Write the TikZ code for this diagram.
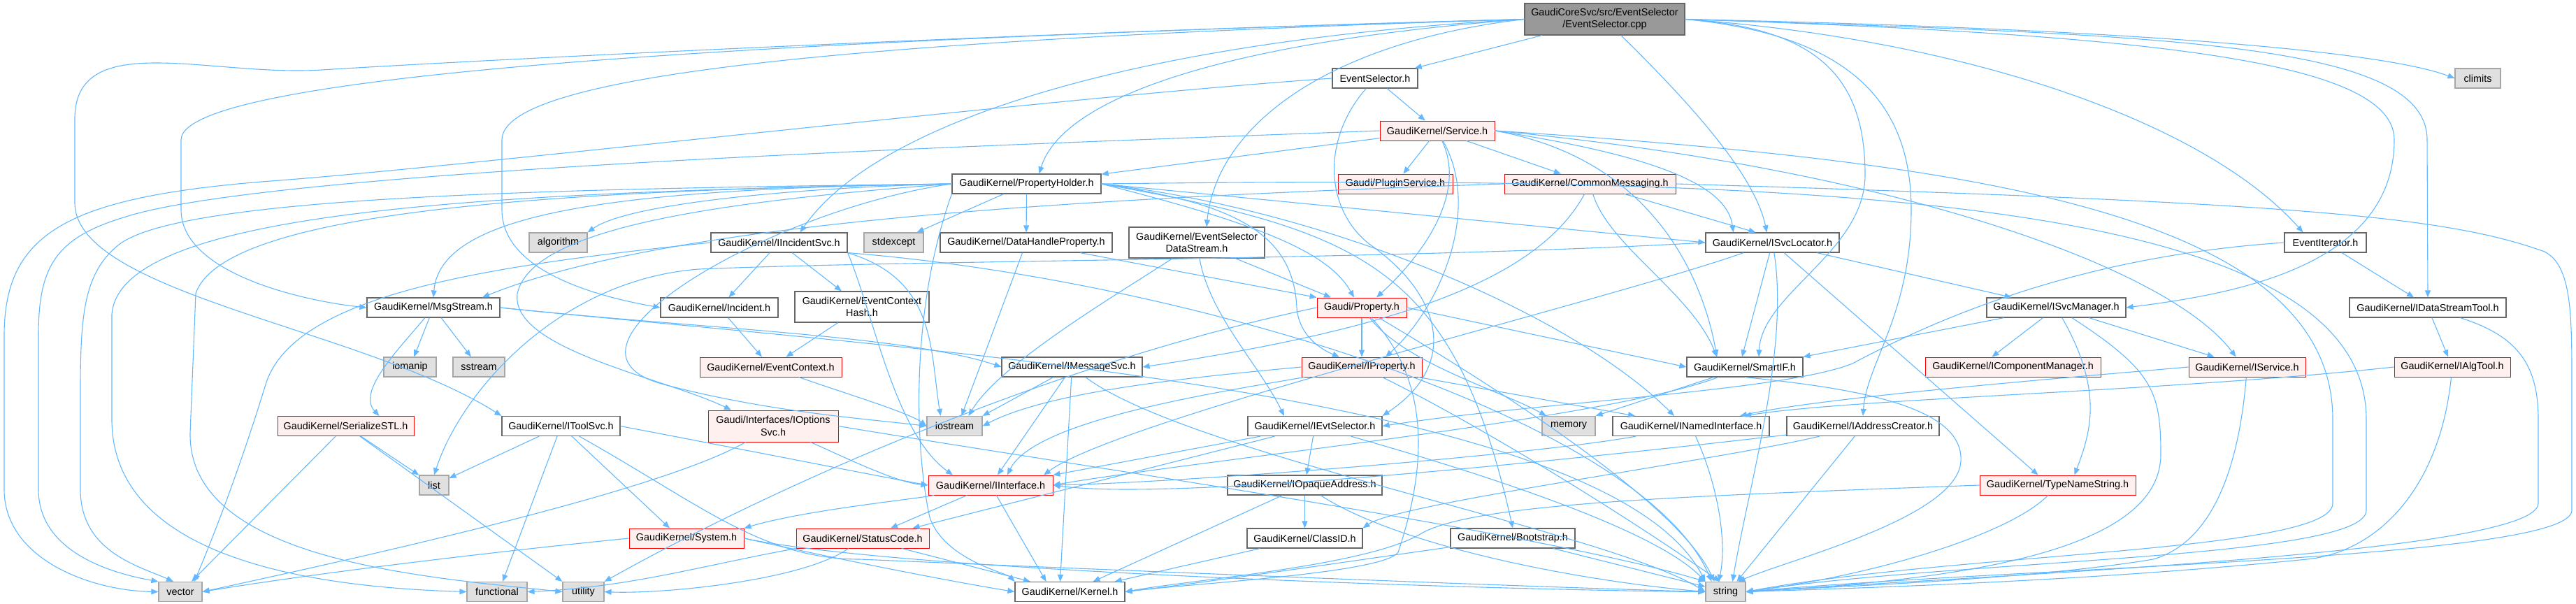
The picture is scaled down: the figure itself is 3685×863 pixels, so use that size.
\documentclass[tikz,border=0pt]{standalone}
\usepackage{fontspec}
\setmainfont{Liberation Sans}
\usetikzlibrary{arrows.meta}
\definecolor{depblue}{HTML}{63B8FF}
\definecolor{redfill}{HTML}{FFF0F0}
\definecolor{sysfill}{HTML}{E0E0E0}
\tikzset{
  hdr/.style={draw=black!60, fill=white, line width=0.6pt, inner sep=0pt, minimum height=14pt,
    font=\fontsize{7.2}{8.7}\selectfont, align=center},
  redhdr/.style={hdr, draw=red, fill=redfill, line width=0.5pt},
  syshdr/.style={hdr, draw=black!35, fill=sysfill},
  mainhdr/.style={hdr, draw=black!60, fill=black!40, minimum height=22.5pt},
  dep/.style={draw=depblue, line width=0.55pt, -{Triangle[length=5pt,width=4pt]}},
}
\begin{document}
\begin{tikzpicture}[x=0.5pt, y=-0.5pt]
  \useasboundingbox (0,0) rectangle (3685,863);
  % nodes, row by row
  \node[mainhdr, minimum width=114.5pt] (main) at (2295.5,27.5) {GaudiCoreSvc/src/EventSelector\\/EventSelector.cpp};
  \node[hdr, minimum width=61pt] (EvSelH) at (1967,112) {EventSelector.h};
  \node[syshdr, minimum width=32.5pt] (climits) at (3544.5,112) {climits};
  \node[redhdr, minimum width=82pt] (ServiceH) at (2056,187) {GaudiKernel/Service.h};
  \node[hdr, minimum width=106.5pt] (PropHolder) at (1468.5,263) {GaudiKernel/PropertyHolder.h};
  \node[redhdr, minimum width=82pt] (PluginSvc) at (1996,263) {Gaudi/PluginService.h};
  \node[redhdr, minimum width=122.5pt] (CommonMsg) at (2274.5,263) {GaudiKernel/CommonMessaging.h};
  \node[syshdr, minimum width=41.5pt] (algorithm) at (798.5,347) {algorithm};
  \node[hdr, minimum width=97.5pt] (IIncSvc) at (1114.5,347) {GaudiKernel/IIncidentSvc.h};
  \node[syshdr, minimum width=42.5pt] (stdexcept) at (1278.5,347) {stdexcept};
  \node[hdr, minimum width=123pt] (DataHandleProp) at (1468,347) {GaudiKernel/DataHandleProperty.h};
  \node[hdr, minimum width=97pt, minimum height=22pt] (EvSelDataStream) at (1712,347) {GaudiKernel/EventSelector\\DataStream.h};
  \node[hdr, minimum width=95.5pt] (ISvcLocator) at (2535.5,347) {GaudiKernel/ISvcLocator.h};
  \node[hdr, minimum width=58.5pt] (EventIterator) at (3326.5,347) {EventIterator.h};
  \node[hdr, minimum width=95pt] (MsgStream) at (620,440) {GaudiKernel/MsgStream.h};
  \node[hdr, minimum width=84pt] (Incident) at (1029,440) {GaudiKernel/Incident.h};
  \node[hdr, minimum width=96pt, minimum height=22pt] (EvCtxHash) at (1233,439) {GaudiKernel/EventContext\\Hash.h};
  \node[redhdr, minimum width=64pt] (PropertyG) at (1948,440) {Gaudi/Property.h};
  \node[hdr, minimum width=99.5pt] (ISvcManager) at (2941.5,440) {GaudiKernel/ISvcManager.h};
  \node[hdr, minimum width=112pt] (IDataStreamTool) at (3473,440) {GaudiKernel/IDataStreamTool.h};
  \node[syshdr, minimum width=37.5pt] (iomanip) at (586.5,525) {iomanip};
  \node[syshdr, minimum width=37pt] (sstream) at (685,525) {sstream};
  \node[redhdr, minimum width=101.5pt] (EvCtx) at (1102.5,525) {GaudiKernel/EventContext.h};
  \node[hdr, minimum width=100.5pt] (IMsgSvc) at (1533.5,525) {GaudiKernel/IMessageSvc.h};
  \node[redhdr, minimum width=86pt] (IProperty) at (1948,525) {GaudiKernel/IProperty.h};
  \node[hdr, minimum width=83pt] (SmartIF) at (2496,525) {GaudiKernel/SmartIF.h};
  \node[redhdr, minimum width=125.5pt] (ICompMgr) at (2879.5,525) {GaudiKernel/IComponentManager.h};
  \node[redhdr, minimum width=83.5pt] (IService) at (3214.5,525) {GaudiKernel/IService.h};
  \node[redhdr, minimum width=83pt] (IAlgTool) at (3508,525) {GaudiKernel/IAlgTool.h};
  \node[redhdr, minimum width=97.5pt] (SerializeSTL) at (494.5,609.5) {GaudiKernel/SerializeSTL.h};
  \node[hdr, minimum width=84.5pt] (IToolSvc) at (802.5,609.5) {GaudiKernel/IToolSvc.h};
  \node[redhdr, minimum width=93pt, minimum height=22.5pt] (IOptionsSvc) at (1106,609.5) {Gaudi/Interfaces/IOptions\\Svc.h};
  \node[syshdr, minimum width=39.5pt] (iostream) at (1365.5,609.5) {iostream};
  \node[hdr, minimum width=96pt] (IEvtSelector) at (1881,609.5) {GaudiKernel/IEvtSelector.h};
  \node[syshdr, minimum width=38pt] (memory) at (2244,609.5) {memory};
  \node[hdr, minimum width=112pt] (INamedIf) at (2419,609.5) {GaudiKernel/INamedInterface.h};
  \node[hdr, minimum width=109pt] (IAddrCreator) at (2665,609.5) {GaudiKernel/IAddressCreator.h};
  \node[syshdr, minimum width=21pt] (list) at (621,694) {list};
  \node[redhdr, minimum width=89pt] (IInterface) at (1417,694) {GaudiKernel/IInterface.h};
  \node[hdr, minimum width=110.5pt] (IOpaqueAddr) at (1866.5,694) {GaudiKernel/IOpaqueAddress.h};
  \node[redhdr, minimum width=111.5pt] (TypeNameStr) at (2943.5,694) {GaudiKernel/TypeNameString.h};
  \node[redhdr, minimum width=82pt] (System) at (982,770) {GaudiKernel/System.h};
  \node[redhdr, minimum width=95pt] (StatusCode) at (1234,770) {GaudiKernel/StatusCode.h};
  \node[hdr, minimum width=82.5pt] (ClassID) at (1866.5,770) {GaudiKernel/ClassID.h};
  \node[hdr, minimum width=89pt] (Bootstrap) at (2164,770) {GaudiKernel/Bootstrap.h};
  \node[syshdr, minimum width=31pt] (vector) at (258,846.5) {vector};
  \node[syshdr, minimum width=43pt] (functional) at (711,846.5) {functional};
  \node[syshdr, minimum width=29.5pt] (utility) at (834.5,846.5) {utility};
  \node[hdr, minimum width=78.5pt] (KernelH) at (1530.5,846.5) {GaudiKernel/Kernel.h};
  \node[syshdr, minimum width=28.5pt] (string) at (2468.5,846.5) {string};
  % EventSelector.cpp
  \draw[dep] (main) -- (EvSelH);
  \draw[dep] (main.west) .. controls (1500,45) and (700,85) .. (460,100) .. controls (300,110) and (107,40) .. (107,170) -- (107,290) .. controls (107,420) and (520,470) .. (IToolSvc.north west);
  \draw[dep] (main.west) .. controls (1400,50) and (259,90) .. (259,200) -- (259,300) .. controls (259,390) and (430,430) .. (MsgStream.west);
  \draw[dep] (main.west) .. controls (1300,55) and (718,100) .. (718,200) -- (718,300) .. controls (718,390) and (860,425) .. (Incident.west);
  \draw[dep] (main.west) .. controls (1750,60) and (1520,140) .. ([xshift=9pt]PropHolder.north);
  \draw[dep] (main.west) .. controls (1600,60) and (1250,180) .. ([xshift=15pt]IIncSvc.north);
  \draw[dep] (main.west) .. controls (1900,60) and (1740,180) .. ([xshift=7pt]EvSelDataStream.north);
  \draw[dep] (main) .. controls (2420,150) and (2510,250) .. ([xshift=-4pt]ISvcLocator.north);
  \draw[dep] (main.east) .. controls (3100,50) and (3425,90) .. (3425,200) .. controls (3425,380) and (3200,420) .. (ISvcManager.east);
  \draw[dep] (main.east) .. controls (3000,40) and (3400,70) .. (climits.west);
  \draw[dep] (main.east) .. controls (3100,50) and (3472,60) .. (3472,200) -- (IDataStreamTool.north);
  \draw[dep] (main.east) .. controls (2800,55) and (3150,170) .. ([xshift=-16pt]EventIterator.north);
  \draw[dep] (main.east) .. controls (2600,40) and (2668,110) .. (2668,250) .. controls (2668,360) and (2520,420) .. ([xshift=10pt]SmartIF.north);
  \draw[dep] (main.east) .. controls (2650,50) and (2734,150) .. (2734,300) .. controls (2734,450) and (2670,520) .. (IAddrCreator.north);
  % EventSelector.h
  \draw[dep] (EvSelH) -- (ServiceH);
  \draw[dep] (EvSelH) .. controls (1890,200) and (1895,300) .. (1960,350) .. controls (2060,420) and (2090,520) .. (IEvtSelector.north east);
  \draw[dep] (EvSelH.west) .. controls (1500,140) and (700,235) .. (400,258) .. controls (100,280) and (6,330) .. (6,480) -- (6,700) .. controls (6,800) and (130,845) .. (vector.west);
  % Service.h
  \draw[dep] (ServiceH) -- (PropHolder);
  \draw[dep] (ServiceH) -- (PluginSvc);
  \draw[dep] (ServiceH) -- (CommonMsg);
  \draw[dep] (ServiceH) .. controls (2100,280) and (2030,370) .. ([xshift=10.5pt]PropertyG.north);
  \draw[dep] (ServiceH) .. controls (2120,300) and (2060,440) .. ([xshift=17pt]IProperty.north);
  \draw[dep] (ServiceH.east) .. controls (2350,220) and (2470,260) .. ([xshift=-28pt]ISvcLocator.north);
  \draw[dep] (ServiceH.east) .. controls (2700,240) and (3100,380) .. ([xshift=-8pt]IService.north);
  \draw[dep] (ServiceH.east) .. controls (2380,230) and (2440,420) .. ([xshift=-20pt]SmartIF.north);
  \draw[dep] (ServiceH.west) .. controls (1500,205) and (400,240) .. (180,310) .. controls (80,340) and (55,380) .. (55,480) -- (55,700) .. controls (55,790) and (160,820) .. (vector.north west);
  \draw[dep] (ServiceH.east) .. controls (2800,230) and (3337,300) .. (3337,600) -- (3337,720) .. controls (3337,790) and (2800,790) .. (string.east);
  % PropertyHolder.h
  \draw[dep] (PropHolder) -- (stdexcept);
  \draw[dep] (PropHolder) -- (DataHandleProp);
  \draw[dep] (PropHolder.west) .. controls (1150,268) and (900,290) .. (algorithm.north east);
  \draw[dep] (PropHolder.west) .. controls (800,270) and (260,280) .. (170,350) .. controls (120,390) and (115,450) .. (115,560) -- (115,700) .. controls (115,790) and (200,810) .. ([xshift=-5pt]vector.north);
  \draw[dep] (PropHolder.west) .. controls (800,272) and (320,300) .. (280,420) -- (272,620) .. controls (270,800) and (600,825) .. (utility.west);
  \draw[dep] (PropHolder.west) .. controls (700,275) and (170,300) .. (160,450) -- (160,600) .. controls (160,800) and (450,840) .. (functional.west);
  \draw[dep] (PropHolder.west) .. controls (900,270) and (630,300) .. (MsgStream.north);
  \draw[dep] (PropHolder.west) .. controls (1000,290) and (760,330) .. (740,420) .. controls (730,500) and (950,540) .. ([xshift=-30pt]IOptionsSvc.north);
  \draw[dep] (PropHolder.west) .. controls (1100,300) and (760,500) .. (950,550) .. controls (1100,590) and (1250,600) .. (iostream.west);
  \draw[dep] (PropHolder.east) .. controls (1760,290) and (1850,330) .. (1855,440) .. controls (1858,480) and (1890,500) .. ([xshift=-16pt]IProperty.north);
  \draw[dep] (PropHolder.east) .. controls (1800,320) and (1900,360) .. ([xshift=-5.5pt]PropertyG.north);
  \draw[dep] (PropHolder.east) .. controls (1950,330) and (2080,380) .. (Bootstrap.north);
  \draw[dep] (PropHolder.east) -- (ISvcLocator.west);
  \draw[dep] (PropHolder.east) .. controls (1900,300) and (2250,450) .. ([xshift=-12pt]INamedIf.north);
  \draw[dep] (PropHolder.south west) .. controls (1300,450) and (1310,650) .. (1330,740) .. controls (1350,800) and (1440,820) .. (KernelH.north west);
  \draw[dep] (PropHolder.east) .. controls (2600,250) and (3385,280) .. (3385,600) -- (3385,730) .. controls (3385,800) and (2800,800) .. (string.east);
  % CommonMessaging.h
  \draw[dep] (CommonMsg.west) .. controls (1500,285) and (950,320) .. ([xshift=35pt]MsgStream.north);
  \draw[dep] (CommonMsg) .. controls (2200,400) and (2000,470) .. (IMsgSvc.east);
  \draw[dep] (CommonMsg) -- ([xshift=-12pt]ISvcLocator.north);
  \draw[dep] (CommonMsg) .. controls (2300,350) and (2420,420) .. ([xshift=-20pt]SmartIF.north);
  \draw[dep] (CommonMsg.east) .. controls (3300,290) and (3500,310) .. (3640,360) .. controls (3679,380) and (3679,450) .. (3679,550) -- (3679,730) .. controls (3679,800) and (2900,810) .. (string.east);
  % IIncidentSvc.h
  \draw[dep] (IIncSvc) -- (Incident);
  \draw[dep] (IIncSvc) -- (EvCtxHash);
  \draw[dep] (IIncSvc.south east) .. controls (1250,450) and (1280,620) .. ([xshift=-27pt]IInterface.north);
  \draw[dep] (IIncSvc.south east) .. controls (1340,400) and (1330,500) .. ([xshift=-10pt]iostream.north);
  \draw[dep] (IIncSvc.south east) .. controls (1700,400) and (2350,600) .. ([xshift=-10pt]string.north);
  \draw[dep] (IIncSvc.west) .. controls (700,380) and (420,420) .. (380,550) .. controls (340,680) and (300,780) .. ([xshift=10pt]vector.north);
  % DataHandleProperty.h
  \draw[dep] (DataHandleProp) -- (PropertyG.north west);
  \draw[dep] (DataHandleProp) -- ([xshift=5pt]iostream.north);
  % EventSelectorDataStream.h
  \draw[dep] (EvSelDataStream) -- ([xshift=-22pt]PropertyG.north);
  \draw[dep] (EvSelDataStream) .. controls (1730,450) and (1800,520) .. ([xshift=-22pt]IEvtSelector.north);
  \draw[dep] (EvSelDataStream) .. controls (1600,420) and (1430,520) .. ([xshift=10pt]iostream.north);
  % ISvcLocator.h
  \draw[dep] (ISvcLocator) -- ([xshift=-32pt]ISvcManager.north);
  \draw[dep] (ISvcLocator) -- ([xshift=-2pt]SmartIF.north);
  \draw[dep] (ISvcLocator) -- ([xshift=-14pt]TypeNameStr.north);
  \draw[dep] (ISvcLocator) .. controls (2300,430) and (1600,600) .. ([xshift=38pt]IInterface.north);
  \draw[dep] (ISvcLocator) .. controls (2560,500) and (2500,700) .. ([xshift=5pt]string.north);
  \draw[dep] (ISvcLocator.west) .. controls (2000,372) and (1300,372) .. (1000,385) .. controls (800,400) and (660,560) .. (list.north);
  % EventIterator.h
  \draw[dep] (EventIterator) -- ([xshift=-10pt]IDataStreamTool.north);
  \draw[dep] (EventIterator.west) .. controls (3000,365) and (2800,440) .. (2650,520) .. controls (2550,560) and (2200,575) .. (IEvtSelector.east);
  % MsgStream.h
  \draw[dep] (MsgStream) -- (iomanip);
  \draw[dep] (MsgStream) -- (sstream);
  \draw[dep] (MsgStream) .. controls (570,500) and (510,560) .. ([xshift=24pt]SerializeSTL.north);
  \draw[dep] (MsgStream.east) .. controls (1000,470) and (1300,480) .. (IMsgSvc.west);
  \draw[dep] (MsgStream.east) .. controls (1300,500) and (2300,560) .. (string.north west);
  % Incident.h, EventContextHash.h, EventContext.h
  \draw[dep] (Incident) -- (EvCtx);
  \draw[dep] (EvCtxHash) -- (EvCtx);
  \draw[dep] (EvCtx) .. controls (1200,560) and (1300,590) .. (iostream.west);
  % Gaudi/Property.h
  \draw[dep] (PropertyG) -- (IProperty);
  \draw[dep] (PropertyG.west) .. controls (1500,520) and (1100,700) .. (utility.north east);
  \draw[dep] (PropertyG.east) -- (SmartIF.west);
  \draw[dep] (PropertyG) .. controls (2010,520) and (2150,560) .. ([xshift=-16pt]memory.north);
  \draw[dep] (PropertyG) .. controls (2150,560) and (2400,720) .. ([xshift=-8pt]string.north);
  \draw[dep] (PropertyG) .. controls (2060,560) and (2030,700) .. (2000,790) .. controls (1980,820) and (1700,835) .. (KernelH.east);
  % IMessageSvc.h
  \draw[dep] (IMsgSvc) -- (iostream.north east);
  \draw[dep] (IMsgSvc) -- ([xshift=5pt]IInterface.north);
  \draw[dep] (IMsgSvc) -- ([xshift=-7pt]KernelH.north);
  \draw[dep] (IMsgSvc) .. controls (1700,650) and (2300,760) .. (string.west);
  % IProperty.h
  \draw[dep] (IProperty) .. controls (1750,560) and (1480,600) .. ([xshift=12pt]IInterface.north);
  \draw[dep] (IProperty.west) .. controls (1700,540) and (1500,560) .. (iostream.east);
  \draw[dep] (IProperty) -- ([xshift=-40pt]INamedIf.north);
  \draw[dep] (IProperty) .. controls (2100,600) and (2300,720) .. ([xshift=-4pt]string.north);
  % SmartIF.h
  \draw[dep] (SmartIF) .. controls (2300,600) and (1700,660) .. (IInterface.east);
  \draw[dep] (SmartIF) -- (memory.north east);
  \draw[dep] (SmartIF.south) .. controls (2650,555) and (2810,580) .. (2805,660) .. controls (2800,740) and (2560,800) .. ([xshift=9pt]string.north);
  % ISvcManager.h
  \draw[dep] (ISvcManager) -- (SmartIF.north east);
  \draw[dep] (ISvcManager) -- ([xshift=-15pt]ICompMgr.north);
  \draw[dep] (ISvcManager) -- ([xshift=-23.5pt]IService.north);
  \draw[dep] (ISvcManager) .. controls (3010,560) and (2990,620) .. ([xshift=12pt]TypeNameStr.north);
  \draw[dep] (ISvcManager) .. controls (3080,530) and (3091,560) .. (3091,650) .. controls (3091,790) and (2800,830) .. (string.east);
  % IDataStreamTool.h, IService.h, IAlgTool.h
  \draw[dep] (IDataStreamTool) -- (IAlgTool);
  \draw[dep] (IDataStreamTool) .. controls (3600,480) and (3631,520) .. (3631,600) -- (3631,720) .. controls (3631,790) and (2900,820) .. (string.east);
  \draw[dep] (IService.west) .. controls (2900,545) and (2600,570) .. ([xshift=35pt]INamedIf.north);
  \draw[dep] (IService) .. controls (3200,700) and (3150,780) .. (3080,800) .. controls (2900,830) and (2600,840) .. (string.east);
  \draw[dep] (IAlgTool.west) .. controls (3100,560) and (2650,570) .. ([xshift=38pt]INamedIf.north);
  \draw[dep] (IAlgTool) .. controls (3490,700) and (3400,790) .. (3300,800) .. controls (3000,830) and (2700,840) .. (string.east);
  % SerializeSTL.h, IToolSvc.h, IOptionsSvc.h
  \draw[dep] (SerializeSTL) -- (list);
  \draw[dep] (SerializeSTL) -- ([xshift=8pt]vector.north);
  \draw[dep] (SerializeSTL) -- (utility.north west);
  \draw[dep] (IToolSvc) -- (list);
  \draw[dep] (IToolSvc) -- ([xshift=4pt]functional.north);
  \draw[dep] (IToolSvc) -- ([xshift=-12pt]System.north);
  \draw[dep] (IToolSvc.east) .. controls (1100,650) and (1250,680) .. (IInterface.west);
  \draw[dep] (IToolSvc) .. controls (1000,720) and (1090,800) .. (1230,800) .. controls (1700,820) and (2200,840) .. (string.west);
  \draw[dep] (IOptionsSvc) .. controls (950,700) and (550,790) .. (vector.east);
  \draw[dep] (IOptionsSvc) .. controls (1200,650) and (1280,690) .. (IInterface.west);
  \draw[dep] (IOptionsSvc.east) .. controls (1500,660) and (2200,760) .. (string.north west);
  % IEvtSelector.h
  \draw[dep] (IEvtSelector) -- (IInterface.north east);
  \draw[dep] (IEvtSelector) -- (IOpaqueAddr);
  \draw[dep] (IEvtSelector) -- ([xshift=-12pt]StatusCode.north east);
  \draw[dep] (IEvtSelector) .. controls (2200,700) and (2380,770) .. (string.north west);
  % INamedInterface.h, IAddressCreator.h
  \draw[dep] (INamedIf) .. controls (2200,650) and (1700,690) .. (IInterface.east);
  \draw[dep] (INamedIf) .. controls (2460,700) and (2470,780) .. ([xshift=-5pt]string.north);
  \draw[dep] (IAddrCreator) .. controls (2450,660) and (2000,720) .. (ClassID.north east);
  \draw[dep] (IAddrCreator) .. controls (2400,640) and (1700,720) .. (IInterface.east);
  \draw[dep] (IAddrCreator) -- ([xshift=8pt]string.north);
  % IInterface.h, IOpaqueAddress.h, TypeNameString.h
  \draw[dep] (IInterface) -- ([xshift=20pt]StatusCode.north);
  \draw[dep] (IInterface) -- ([xshift=-17pt]KernelH.north);
  \draw[dep] (IInterface) .. controls (1300,715) and (1150,730) .. (System.north east);
  \draw[dep] (IOpaqueAddr) -- (ClassID);
  \draw[dep] (IOpaqueAddr) -- ([xshift=-23pt]KernelH.north east);
  \draw[dep] (IOpaqueAddr) .. controls (2000,780) and (2250,830) .. (string.west);
  \draw[dep] (TypeNameStr.west) .. controls (2400,710) and (2100,720) .. (2030,765) .. controls (1950,810) and (1700,830) .. (KernelH.east);
  \draw[dep] (TypeNameStr) .. controls (2880,760) and (2700,820) .. (string.east);
  % System.h, StatusCode.h, ClassID.h, Bootstrap.h
  \draw[dep] (System.west) .. controls (700,790) and (450,820) .. (vector.east);
  \draw[dep] (System.east) .. controls (1200,800) and (1350,830) .. (KernelH.west);
  \draw[dep] (System.east) .. controls (1300,820) and (2200,845) .. (string.west);
  \draw[dep] (StatusCode) -- (KernelH);
  \draw[dep] (StatusCode.south west) .. controls (1000,810) and (900,840) .. (functional.east);
  \draw[dep] (StatusCode) .. controls (1150,830) and (950,850) .. (utility.east);
  \draw[dep] (ClassID) -- (KernelH);
  \draw[dep] (Bootstrap) .. controls (1950,800) and (1750,830) .. (KernelH.east);
  \draw[dep] (Bootstrap) -- (string);
\end{tikzpicture}
\end{document}
